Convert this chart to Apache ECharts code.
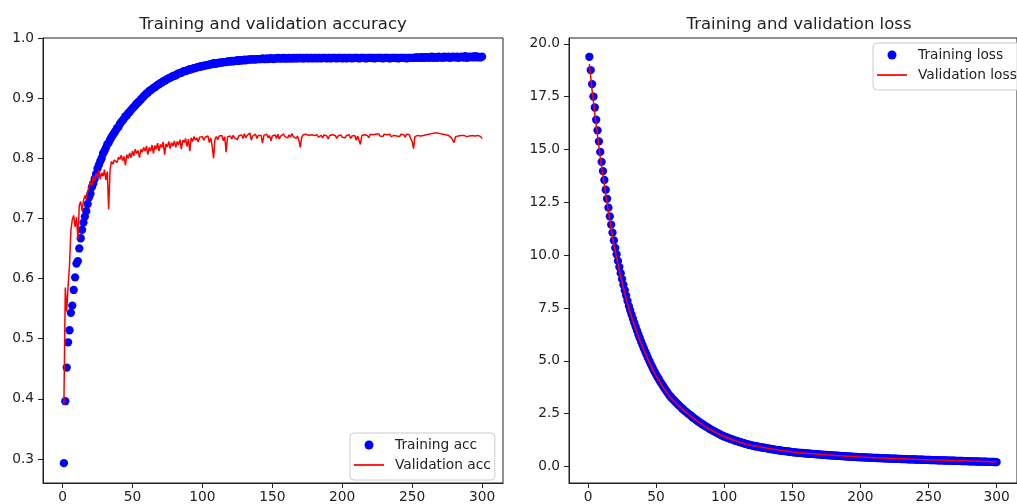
<!DOCTYPE html>
<html>
<head>
<meta charset="utf-8">
<script src="https://cdn.jsdelivr.net/npm/echarts@6/dist/echarts.min.js"></script>
<style>
html,body{margin:0;padding:0;background:#fff;}
#chart{width:1017px;height:504px;}
</style>
</head>
<body>
<div id="chart"></div>
<script>
// ---- data (epochs 1..300) ----
const trainAcc = [
0.293,0.396,0.452,0.494,0.514,0.543,0.555,0.581,0.602,0.625,
0.629,0.650,0.667,0.681,0.693,0.703,0.712,0.724,0.735,0.741,
0.752,0.758,0.766,0.774,0.783,0.789,0.795,0.800,0.808,0.812,
0.817,0.823,0.826,0.831,0.835,0.839,0.842,0.846,0.850,0.852,
0.857,0.860,0.863,0.866,0.870,0.871,0.875,0.877,0.880,0.883,
0.885,0.888,0.891,0.893,0.895,0.898,0.900,0.903,0.905,0.908,
0.909,0.912,0.913,0.915,0.917,0.918,0.920,0.922,0.923,0.925,
0.926,0.928,0.929,0.930,0.932,0.933,0.934,0.935,0.937,0.937,
0.938,0.940,0.941,0.942,0.942,0.944,0.945,0.945,0.946,0.947,
0.948,0.948,0.949,0.950,0.950,0.951,0.952,0.952,0.953,0.953,
0.954,0.954,0.955,0.955,0.956,0.956,0.957,0.958,0.957,0.958,
0.958,0.959,0.959,0.959,0.960,0.960,0.960,0.961,0.961,0.961,
0.962,0.961,0.962,0.962,0.963,0.962,0.963,0.963,0.963,0.964,
0.963,0.964,0.964,0.964,0.965,0.964,0.965,0.964,0.965,0.965,
0.965,0.965,0.966,0.965,0.965,0.966,0.965,0.966,0.966,0.966,
0.965,0.966,0.966,0.967,0.966,0.966,0.966,0.967,0.966,0.966,
0.966,0.967,0.966,0.966,0.967,0.966,0.967,0.966,0.967,0.967,
0.966,0.967,0.966,0.967,0.967,0.966,0.967,0.967,0.966,0.967,
0.967,0.966,0.967,0.967,0.966,0.967,0.967,0.967,0.966,0.967,
0.967,0.966,0.967,0.967,0.967,0.966,0.967,0.967,0.967,0.966,
0.967,0.967,0.966,0.967,0.967,0.967,0.966,0.967,0.967,0.967,
0.967,0.966,0.967,0.967,0.967,0.967,0.966,0.967,0.967,0.967,
0.967,0.967,0.966,0.967,0.967,0.967,0.967,0.967,0.966,0.967,
0.967,0.967,0.967,0.966,0.967,0.967,0.967,0.967,0.967,0.966,
0.967,0.967,0.967,0.967,0.967,0.966,0.967,0.967,0.967,0.967,
0.967,0.967,0.968,0.967,0.967,0.968,0.967,0.968,0.967,0.968,
0.968,0.967,0.968,0.969,0.967,0.968,0.968,0.967,0.969,0.968,
0.968,0.967,0.969,0.968,0.968,0.969,0.967,0.968,0.969,0.968,
0.968,0.969,0.967,0.968,0.969,0.968,0.968,0.970,0.967,0.968,
0.969,0.968,0.969,0.968,0.970,0.968,0.969,0.968,0.968,0.969
];
const valAcc = [
0.390,0.585,0.545,0.588,0.622,0.680,0.698,0.705,0.686,0.702,
0.665,0.722,0.728,0.712,0.730,0.738,0.733,0.745,0.752,0.760,
0.755,0.770,0.762,0.775,0.768,0.780,0.765,0.776,0.770,0.781,
0.764,0.778,0.715,0.781,0.795,0.790,0.797,0.800,0.793,0.802,
0.798,0.805,0.796,0.803,0.788,0.806,0.800,0.809,0.801,0.812,
0.804,0.815,0.808,0.813,0.801,0.815,0.810,0.818,0.812,0.820,
0.806,0.818,0.812,0.822,0.808,0.821,0.815,0.825,0.812,0.823,
0.818,0.827,0.806,0.824,0.819,0.828,0.816,0.826,0.820,0.829,
0.818,0.828,0.822,0.831,0.815,0.830,0.826,0.833,0.820,0.832,
0.812,0.834,0.828,0.836,0.830,0.834,0.827,0.835,0.832,0.836,
0.830,0.835,0.833,0.837,0.826,0.834,0.820,0.800,0.832,0.836,
0.831,0.837,0.834,0.838,0.829,0.836,0.810,0.836,0.833,0.837,
0.832,0.838,0.834,0.836,0.831,0.837,0.835,0.839,0.833,0.841,
0.834,0.838,0.836,0.842,0.830,0.837,0.835,0.840,0.833,0.838,
0.836,0.838,0.825,0.838,0.835,0.840,0.834,0.838,0.829,0.837,
0.835,0.839,0.833,0.840,0.832,0.837,0.835,0.840,0.836,0.838,
0.834,0.839,0.835,0.841,0.836,0.838,0.833,0.837,0.830,0.818,
0.835,0.839,0.836,0.840,0.837,0.838,0.835,0.839,0.836,0.838,
0.836,0.839,0.835,0.837,0.838,0.834,0.839,0.836,0.837,0.832,
0.838,0.835,0.839,0.836,0.838,0.833,0.837,0.836,0.839,0.835,
0.837,0.834,0.838,0.836,0.839,0.833,0.837,0.835,0.838,0.830,
0.837,0.836,0.823,0.838,0.835,0.839,0.836,0.838,0.834,0.840,
0.837,0.839,0.836,0.840,0.838,0.841,0.837,0.839,0.836,0.840,
0.838,0.839,0.837,0.840,0.836,0.839,0.838,0.841,0.837,0.839,
0.836,0.840,0.838,0.839,0.835,0.840,0.837,0.839,0.832,0.828,
0.816,0.836,0.839,0.838,0.840,0.837,0.839,0.838,0.840,0.839,
0.841,0.840,0.842,0.841,0.843,0.842,0.841,0.842,0.840,0.841,
0.839,0.840,0.838,0.839,0.837,0.838,0.836,0.834,0.830,0.826,
0.836,0.838,0.837,0.839,0.838,0.840,0.838,0.839,0.836,0.838,
0.837,0.839,0.838,0.840,0.837,0.839,0.838,0.840,0.836,0.833
];
const trainLoss = [
19.39,18.76,18.10,17.51,16.99,16.41,15.91,15.39,14.89,14.42,
13.98,13.56,13.10,12.67,12.25,11.84,11.45,11.07,10.70,10.35,
10.04,9.73,9.44,9.15,8.87,8.60,8.34,8.09,7.84,7.60,
7.39,7.19,6.99,6.80,6.61,6.43,6.25,6.08,5.91,5.75,
5.59,5.44,5.29,5.14,5.00,4.86,4.73,4.60,4.47,4.35,
4.24,4.13,4.02,3.92,3.82,3.72,3.62,3.53,3.44,3.35,
3.28,3.21,3.14,3.07,3.01,2.94,2.88,2.82,2.76,2.70,
2.64,2.59,2.53,2.48,2.43,2.38,2.32,2.28,2.23,2.18,
2.13,2.09,2.05,2.00,1.96,1.92,1.88,1.84,1.80,1.76,
1.72,1.69,1.65,1.62,1.58,1.55,1.52,1.48,1.45,1.42,
1.40,1.37,1.35,1.32,1.30,1.28,1.25,1.23,1.21,1.19,
1.17,1.15,1.13,1.11,1.09,1.07,1.05,1.03,1.02,1.00,
0.99,0.97,0.96,0.95,0.94,0.92,0.91,0.90,0.89,0.88,
0.87,0.85,0.84,0.83,0.82,0.81,0.80,0.79,0.78,0.77,
0.76,0.75,0.74,0.73,0.73,0.72,0.71,0.70,0.69,0.68,
0.674,0.668,0.662,0.656,0.650,0.645,0.639,0.633,0.628,0.622,
0.617,0.611,0.606,0.601,0.595,0.590,0.585,0.580,0.575,0.570,
0.565,0.560,0.555,0.550,0.546,0.541,0.536,0.532,0.527,0.523,
0.518,0.514,0.509,0.505,0.500,0.496,0.492,0.488,0.483,0.479,
0.475,0.471,0.467,0.463,0.459,0.455,0.451,0.448,0.444,0.440,
0.437,0.434,0.431,0.428,0.425,0.422,0.419,0.416,0.413,0.410,
0.407,0.404,0.402,0.399,0.396,0.393,0.390,0.388,0.385,0.382,
0.380,0.377,0.374,0.372,0.369,0.367,0.364,0.362,0.359,0.357,
0.354,0.352,0.349,0.347,0.345,0.342,0.340,0.338,0.335,0.333,
0.331,0.328,0.326,0.324,0.322,0.320,0.317,0.315,0.313,0.310,
0.308,0.306,0.304,0.302,0.300,0.298,0.296,0.294,0.292,0.290,
0.288,0.286,0.284,0.282,0.280,0.278,0.276,0.274,0.272,0.270,
0.268,0.266,0.264,0.262,0.260,0.258,0.256,0.254,0.252,0.250,
0.248,0.246,0.244,0.242,0.240,0.238,0.236,0.234,0.232,0.230,
0.228,0.226,0.224,0.222,0.220,0.218,0.216,0.214,0.212,0.210
];
const valLoss = [
19.05,18.43,17.80,17.25,16.70,16.16,15.65,15.14,14.65,14.20,
13.77,13.33,12.88,12.46,12.04,11.64,11.26,10.88,10.52,10.19,
9.88,9.58,9.29,9.01,8.73,8.47,8.21,7.96,7.72,7.49,
7.29,7.09,6.89,6.70,6.52,6.34,6.16,5.99,5.83,5.67,
5.51,5.36,5.21,5.07,4.93,4.79,4.66,4.53,4.41,4.29,
4.18,4.07,3.97,3.87,3.77,3.67,3.58,3.48,3.40,3.31,
3.24,3.17,3.10,3.04,2.97,2.91,2.85,2.79,2.73,2.67,
2.62,2.56,2.51,2.45,2.40,2.35,2.30,2.25,2.21,2.16,
2.11,2.07,2.03,1.98,1.94,1.90,1.86,1.82,1.78,1.74,
1.71,1.67,1.64,1.60,1.57,1.54,1.50,1.47,1.44,1.41,
1.39,1.36,1.34,1.31,1.29,1.27,1.24,1.22,1.20,1.18,
1.16,1.14,1.12,1.10,1.08,1.06,1.05,1.03,1.01,1.00,
1.00,0.98,0.97,0.96,0.95,0.93,0.92,0.91,0.90,0.89,
0.88,0.86,0.85,0.84,0.83,0.82,0.81,0.80,0.79,0.78,
0.77,0.76,0.75,0.74,0.74,0.73,0.72,0.71,0.70,0.69,
0.684,0.678,0.672,0.666,0.660,0.655,0.649,0.643,0.638,0.632,
0.627,0.621,0.616,0.611,0.605,0.600,0.595,0.590,0.585,0.580,
0.575,0.570,0.565,0.560,0.556,0.551,0.546,0.542,0.537,0.533,
0.528,0.524,0.519,0.515,0.510,0.506,0.502,0.498,0.493,0.489,
0.485,0.481,0.477,0.473,0.469,0.465,0.461,0.458,0.454,0.450,
0.447,0.444,0.441,0.438,0.435,0.432,0.429,0.426,0.423,0.420,
0.417,0.414,0.412,0.409,0.406,0.403,0.400,0.398,0.395,0.392,
0.390,0.387,0.384,0.382,0.379,0.377,0.374,0.372,0.369,0.367,
0.364,0.362,0.359,0.357,0.355,0.352,0.350,0.348,0.345,0.343,
0.341,0.338,0.336,0.334,0.332,0.330,0.327,0.325,0.323,0.320,
0.318,0.316,0.314,0.312,0.310,0.308,0.306,0.304,0.302,0.300,
0.298,0.296,0.294,0.292,0.290,0.288,0.286,0.284,0.282,0.280,
0.278,0.276,0.274,0.272,0.270,0.268,0.266,0.264,0.262,0.260,
0.258,0.256,0.254,0.252,0.250,0.248,0.246,0.244,0.242,0.240,
0.238,0.236,0.234,0.232,0.230,0.228,0.226,0.224,0.222,0.220
];
const xTicks = [0, 50, 100, 150, 200, 250, 300];
const accTicks = [0.3, 0.4, 0.5, 0.6, 0.7, 0.8, 0.9, 1.0];
const lossTicks = [0, 2.5, 5, 7.5, 10, 12.5, 15, 17.5, 20];
const titles = ['Training and validation accuracy', 'Training and validation loss'];
const names = ['Training acc', 'Validation acc', 'Training loss', 'Validation loss'];

// ---- build ----
const pairs = arr => arr.map((v, i) => [i + 1, v]);
const FONT = 'DejaVu Sans';
const TXT = '#222';

function xAxis(gi) {
  return {
    type: 'value', gridIndex: gi, min: -13.95, max: 314.95,
    splitLine: {show: false},
    axisLine: {show: true, onZero: false, lineStyle: {color: TXT, width: 1}},
    axisTick: {show: true, length: 5, customValues: xTicks, lineStyle: {color: TXT, width: 1}},
    axisLabel: {customValues: xTicks, margin: 7, fontFamily: FONT, fontSize: 13.75, color: TXT}
  };
}
function yAxis(gi, min, max, ticks) {
  return {
    type: 'value', gridIndex: gi, min: min, max: max,
    splitLine: {show: false},
    axisLine: {show: true, onZero: false, lineStyle: {color: TXT, width: 1}},
    axisTick: {show: true, length: 5, customValues: ticks, lineStyle: {color: TXT, width: 1}},
    axisLabel: {customValues: ticks, margin: 9, fontFamily: FONT, fontSize: 13.75, color: TXT,
      formatter: v => Number(v).toFixed(1)}
  };
}
function legend(scatterName, lineName, left, top) {
  return {
    data: [
      {name: scatterName, icon: 'circle'},
      {name: lineName, itemStyle: {opacity: 0}, lineStyle: {width: 2, color: '#ff2020'}}
    ],
    orient: 'vertical', left: left, top: top,
    itemWidth: 30, itemHeight: 9, itemGap: 6,
    padding: [5, 4, 8, 3],
    backgroundColor: 'rgba(255,255,255,0.8)', borderColor: '#cccccc', borderWidth: 1, borderRadius: 4,
    selectedMode: false,
    textStyle: {fontFamily: FONT, fontSize: 13.75, color: TXT, padding: [0, 0, 0, 6], lineHeight: 14}
  };
}
function scatter(name, data, gi) {
  return {
    type: 'scatter', name: name, xAxisIndex: gi, yAxisIndex: gi, data: pairs(data),
    symbol: 'circle', symbolSize: 8.3, itemStyle: {color: '#0000ff', opacity: 1},
    silent: true, z: 2
  };
}
function line(name, data, gi) {
  return {
    type: 'line', name: name, xAxisIndex: gi, yAxisIndex: gi, data: pairs(data),
    symbol: 'none', showSymbol: false, lineStyle: {color: '#ff0000', width: 1.5},
    itemStyle: {color: '#ff0000'}, silent: true, z: 3
  };
}

const chart = echarts.init(document.getElementById('chart'), null, {renderer: 'canvas'});
chart.setOption({
  animation: false,
  backgroundColor: '#ffffff',
  title: [
    {text: titles[0], left: 273, top: 16, textAlign: 'center', padding: 0,
     textStyle: {fontFamily: FONT, fontSize: 16.5, fontWeight: 'normal', color: TXT}},
    {text: titles[1], left: 799, top: 16, textAlign: 'center', padding: 0,
     textStyle: {fontFamily: FONT, fontSize: 16.5, fontWeight: 'normal', color: TXT}}
  ],
  grid: [
    {left: 43, top: 38, width: 460, height: 448, show: true, borderColor: TXT, borderWidth: 1, containLabel: false},
    {left: 569, top: 38, width: 460, height: 448, show: true, borderColor: TXT, borderWidth: 1, containLabel: false}
  ],
  xAxis: [xAxis(0), xAxis(1)],
  yAxis: [yAxis(0, 0.26, 1.0, accTicks), yAxis(1, -0.78, 20.28, lossTicks)],
  legend: [legend(names[0], names[1], 350, 433), legend(names[2], names[3], 873, 43)],
  series: [
    scatter(names[0], trainAcc, 0),
    line(names[1], valAcc, 0),
    scatter(names[2], trainLoss, 1),
    line(names[3], valLoss, 1)
  ]
});
</script>
</body>
</html>
